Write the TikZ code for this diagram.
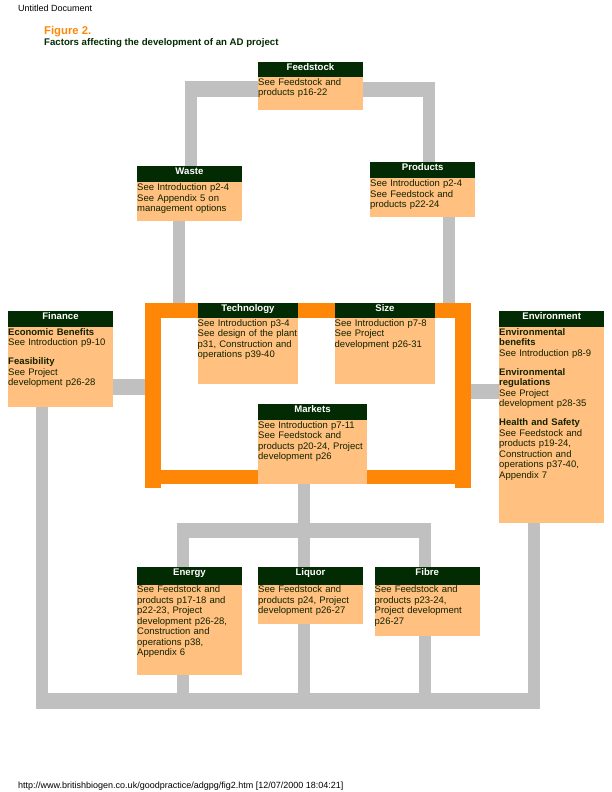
\documentclass[tikz,border=0pt]{standalone}
\usepackage{tikz}
\usepackage{xcolor}
\usepackage{fontspec}
\setmainfont{Liberation Sans}

\definecolor{headgreen}{HTML}{032B03}
\definecolor{bodypeach}{HTML}{FFC080}
\definecolor{ringorange}{HTML}{FF8707}
\definecolor{linkgrey}{HTML}{C0C0C0}
\definecolor{bodyink}{HTML}{122200}

\begin{document}
\begin{tikzpicture}[x=1pt,y=-1pt]
%\draw[help lines] (0,0) grid (612,792);
\useasboundingbox (0,0) rectangle (612,792);

\tikzset{
factorbody/.style n args={3}{
	anchor 		= north west,
	fill 		= bodypeach,
	text 		= bodyink,
	inner sep 	= 0pt,
	align 		= left,
	font 		= \fontsize{9.5}{10.5}\selectfont,
	text width 	= #1pt,
	text height = #2pt,
	text depth 	= #3pt},
factorhead/.style n args={2}{
	anchor 		= north,
	fill 		= headgreen,
	text 		= white,
	inner xsep 	= 0pt,
	inner ysep 	= 0pt,
	align 		= center,
	font 		= \fontsize{9.6}{10.5}\bfseries\selectfont,
	text width 	= #1pt,
	text height = 8.5pt,
	text depth 	= #2pt},
greylink/.style = {draw=linkgrey, line width=#1pt},
greylink/.default = 12,
ringlink/.style = {draw=ringorange, line width=#1pt},
ringlink/.default = 16,
pagetext/.style = {anchor=base west, inner sep=0pt, font=\fontsize{9}{10}\selectfont}}

% page texts
\node[pagetext] (pagetitle) at (18,12) {Untitled Document};
\node[pagetext] (pageurl) at (18,788) {http://www.britishbiogen.co.uk/goodpractice/adgpg/fig2.htm [12/07/2000 18:04:21]};
\node[pagetext, text=ringorange, font=\fontsize{11.3}{13}\bfseries\selectfont] (figtitle) at (44,34.5) {Figure 2.};
\node[pagetext, text=headgreen, font=\fontsize{9.65}{11}\bfseries\selectfont] (figsub) at (44,46) {Factors affecting the development of an AD project};

% boxes
\node[factorbody={104.5}{23.5}{24.5}] (feedstock) at (258,61.5)
	{See Feedstock and\\products p16-22};
\node[factorhead={104.5}{6.5}] (feedstockhead) at (feedstock.north) {Feedstock};

\node[factorbody={104.5}{24.5}{30.5}] (waste) at (137,166)
	{See Introduction p2-4\\See Appendix 5 on\\management options};
\node[factorhead={104.5}{7.5}] (wastehead) at (waste.north) {Waste};

\node[factorbody={105}{24.5}{30.5}] (products) at (370,162)
	{See Introduction p2-4\\See Feedstock and\\products p22-24};
\node[factorhead={105}{7.5}] (productshead) at (products.north) {Products};

\node[factorbody={104.5}{24}{72}] (finance) at (8,311)
	{\textbf{Economic Benefits}\\See Introduction p9-10\\[8.5pt]\textbf{Feasibility}\\See Project\\development p26-28};
\node[factorhead={104.5}{7.5}] (financehead) at (finance.north) {Finance};

\node[factorbody={100.5}{23}{57.5}] (technology) at (197.5,303)
	{See Introduction p3-4\\See design of the plant\\p31, Construction and\\operations p39-40};
\node[factorhead={100.5}{6.5}] (technologyhead) at (technology.north) {Technology};

\node[factorbody={100.5}{23}{57.5}] (size) at (334.5,303)
	{See Introduction p7-8\\See Project\\development p26-31};
\node[factorhead={100.5}{6.5}] (sizehead) at (size.north) {Size};

\node[factorbody={108.5}{24.5}{56}] (markets) at (258,403.5)
	{See Introduction p7-11\\See Feedstock and\\products p20-24, Project\\development p26};
\node[factorhead={108.5}{7.5}] (marketshead) at (markets.north) {Markets};

\node[factorbody={105}{24}{188}] (environment) at (499,311)
	{\textbf{Environmental}\\\textbf{benefits}\\See Introduction p8-9\\[8.5pt]\textbf{Environmental}\\\textbf{regulations}\\See Project\\development p28-35\\[8.5pt]\textbf{Health and Safety}\\See Feedstock and\\products p19-24,\\Construction and\\operations p37-40,\\Appendix 7};
\node[factorhead={105}{7.5}] (environmenthead) at (environment.north) {Environment};

\node[factorbody={104.5}{25.5}{82.5}] (energy) at (137,567)
	{See Feedstock and\\products p17-18 and\\p22-23, Project\\development p26-28,\\Construction and\\operations p38,\\Appendix 6};
\node[factorhead={104.5}{9}] (energyhead) at (energy.north) {Energy};

\node[factorbody={104.5}{25.5}{31}] (liquor) at (258,567)
	{See Feedstock and\\products p24, Project\\development p26-27};
\node[factorhead={104.5}{9}] (liquorhead) at (liquor.north) {Liquor};

\node[factorbody={105}{25.5}{43.5}] (fibre) at (374.5,567)
	{See Feedstock and\\products p23-24,\\Project development\\p26-27};
\node[factorhead={105}{9}] (fibrehead) at (fibre.north) {Fibre};

% corners of the links
\coordinate (feedleft) at (185,89);
\coordinate (feedleftpost) at (191,89);
\coordinate (feedright) at (435,89);
\coordinate (feedrightpost) at (429,89);
\coordinate (wastepost) at (179,310.5);
\coordinate (productspost) at (449,310.5);
\coordinate (ringleft) at (153,303);
\coordinate (ringright) at (463,303);
\coordinate (ringtopleft) at (145,310.5);
\coordinate (ringtopright) at (471,310.5);
\coordinate (ringfoot) at (153,477);
\coordinate (ringfootright) at (463,477);
\coordinate (financelink) at (145,387);
\coordinate (environmentlink) at (471,391);
\coordinate (trunk) at (304,530.5);
\coordinate (splitleft) at (183,530.5);
\coordinate (splitright) at (425,530.5);
\coordinate (splitlefttop) at (183,523);
\coordinate (splitrighttop) at (425,523);
\coordinate (basewest) at (36,701);
\coordinate (baseeast) at (540,701);
\coordinate (baseline) at (183,701);
\coordinate (financepost) at (42.3,701);
\coordinate (environmentpost) at (533.7,701);

% grey links
\draw[greylink=15.5] (feedleft) -- (feedleft -| feedstock.west);
\draw[greylink] (feedleftpost) -- (feedleftpost |- waste.north);
\draw[greylink=15] (feedright) -- (feedright -| feedstock.east);
\draw[greylink] (feedrightpost) -- (feedrightpost |- products.north);
\draw[greylink] (wastepost |- waste.south) -- (wastepost |- technology.north);
\draw[greylink] (productspost |- products.south) -- (productspost |- size.north);
\draw[greylink=15.5] (finance.east |- financelink) -- (financelink);
\draw[greylink=15] (environment.west |- environmentlink) -- (environmentlink);
\draw[greylink] (trunk |- markets.south) -- (trunk |- liquor.north);
\draw[greylink=15] (trunk) -- (splitleft);
\draw[greylink=15] (trunk) -- (splitright);
\draw[greylink] (splitlefttop) -- (splitlefttop |- energy.north);
\draw[greylink] (splitrighttop) -- (splitrighttop |- fibre.north);
\draw[greylink=15.5] (basewest) -- (baseeast);
\draw[greylink] (financepost |- finance.south) -- (financepost);
\draw[greylink] (environmentpost |- environment.south) -- (environmentpost);
\draw[greylink] (baseline |- energy.south) -- (baseline);
\draw[greylink] (trunk |- liquor.south) -- (trunk |- baseline);
\draw[greylink] (splitright |- fibre.south) -- (splitright |- baseline);

% orange ring
\draw[ringlink=15] (ringtopleft) -- (ringtopleft -| technology.west);
\draw[ringlink=15] (ringtopleft -| technology.east) -- (ringtopleft -| size.west);
\draw[ringlink=15] (ringtopright -| size.east) -- (ringtopright);
\draw[ringlink] (ringleft) -- (153,488);
\draw[ringlink] (ringright) -- (463,488);
\draw[ringlink=14] (ringfoot) -- (ringfoot -| markets.west);
\draw[ringlink=14] (ringfootright -| markets.east) -- (ringfootright);
\end{tikzpicture}
\end{document}
